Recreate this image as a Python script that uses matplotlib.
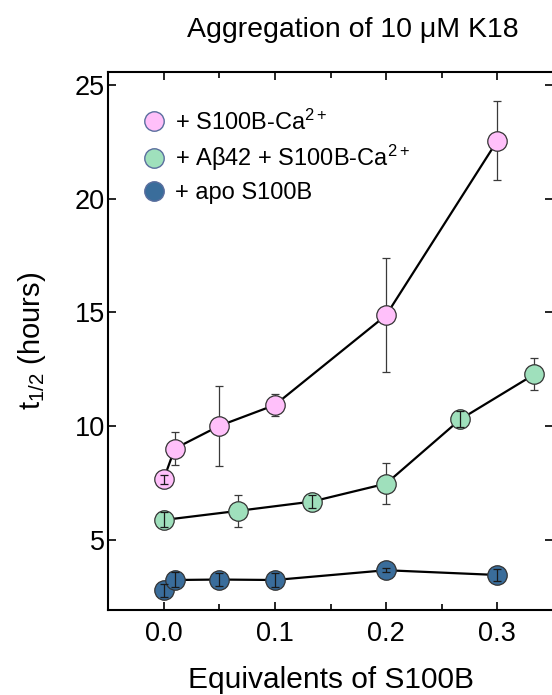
import matplotlib

matplotlib.use("Agg")
import matplotlib.pyplot as plt
from matplotlib.lines import Line2D
from matplotlib.ticker import MultipleLocator
import numpy as np

plt.rcParams["font.family"] = ["Liberation Sans", "DejaVu Sans"]
plt.rcParams["mathtext.fontset"] = "custom"
plt.rcParams["mathtext.rm"] = "Liberation Sans"
plt.rcParams["mathtext.it"] = "Liberation Sans:italic"

# --- data -----------------------------------------------------------------
ca_x = [0.0, 0.01, 0.05, 0.1, 0.2, 0.3]
ca_y = [7.65, 9.0, 10.0, 10.92, 14.87, 22.55]
ca_err = [0.2, 0.74, 1.75, 0.47, 2.5, 1.73]

ab_x = [0.0, 0.0667, 0.1333, 0.2, 0.2667, 0.3333]
ab_y = [5.86, 6.26, 6.67, 7.46, 10.29, 12.27]
ab_err = [0.33, 0.72, 0.3, 0.9, 0.35, 0.7]

apo_x = [0.0, 0.01, 0.05, 0.1, 0.2, 0.3]
apo_y = [2.76, 3.22, 3.24, 3.22, 3.65, 3.44]
apo_err = [0.3, 0.33, 0.3, 0.3, 0.1, 0.25]

series = [
    ("+ S100B-Ca$^{2+}$", ca_x, ca_y, ca_err, "#ffc0fa"),
    ("+ Aβ42 + S100B-Ca$^{2+}$", ab_x, ab_y, ab_err, "#9fe0bc"),
    ("+ apo S100B", apo_x, apo_y, apo_err, "#3a6d9b"),
]

W, H = 552, 695
fig = plt.figure(figsize=(W / 100, H / 100), dpi=100)
ax = fig.add_axes([108 / W, 1 - 610 / H, 445 / W, 538 / H])

marker_r = 0.4  # marker radius in y units, roughly
handles = []
for label, x, y, err, color in series:
    x = np.array(x)
    y = np.array(y)
    err = np.array(err)
    ax.plot(x, y, "-", color="black", lw=1.6, zorder=2)
    small = err <= marker_r
    # large bars disappear behind the marker, small ones are drawn over it
    ax.errorbar(x[~small], y[~small], yerr=err[~small], fmt="none",
                ecolor="#3a3a3a", elinewidth=0.9, capsize=3, capthick=0.9, zorder=1)
    ax.plot(x, y, "o", ms=14, mfc=color, mec="#333333", mew=0.9, zorder=3)
    ax.errorbar(x[small], y[small], yerr=err[small], fmt="none",
                ecolor="#1a1a1a", elinewidth=0.9, capsize=3, capthick=0.9, zorder=4)
    handles.append(Line2D([], [], ls="none", marker="o", ms=14, mfc=color,
                          mec="#5a6e9e", mew=1.0, label=label))

ax.set_xlim(-0.05, 0.35)
ax.set_ylim(1.9, 25.57)
ax.xaxis.set_major_locator(MultipleLocator(0.1))
ax.xaxis.set_minor_locator(MultipleLocator(0.05))
ax.yaxis.set_major_locator(MultipleLocator(5))
ax.xaxis.set_major_formatter(plt.FuncFormatter(lambda v, p: f"{v:.1f}"))

ax.tick_params(which="both", direction="in", top=True, right=True, width=1.2)
ax.tick_params(which="major", length=6)
ax.tick_params(which="minor", length=4)
ax.tick_params(axis="x", labelsize=19.5, pad=8)
ax.tick_params(axis="y", labelsize=19.5, pad=2)
for s in ax.spines.values():
    s.set_linewidth(1.5)

ax.set_xlabel("Equivalents of S100B", fontsize=21.5, va="center")
ax.xaxis.set_label_coords(0.5, -(680 - 610) / 538)
ax.set_ylabel("t$_{1/2}$ (hours)", fontsize=21, va="center")
ax.yaxis.set_label_coords(-(108 - 32) / 445, 0.5)

fig.text(353 / W, 1 - 30 / H, "Aggregation of 10 μM K18", fontsize=20.5,
         ha="center", va="center")

ax.legend(handles=handles, loc="upper left", bbox_to_anchor=(0.055, 0.948),
          frameon=False, fontsize=17, handlelength=1.0, handletextpad=0.4,
          labelspacing=0.36, borderaxespad=0)

fig.savefig("out.png", dpi=100)
